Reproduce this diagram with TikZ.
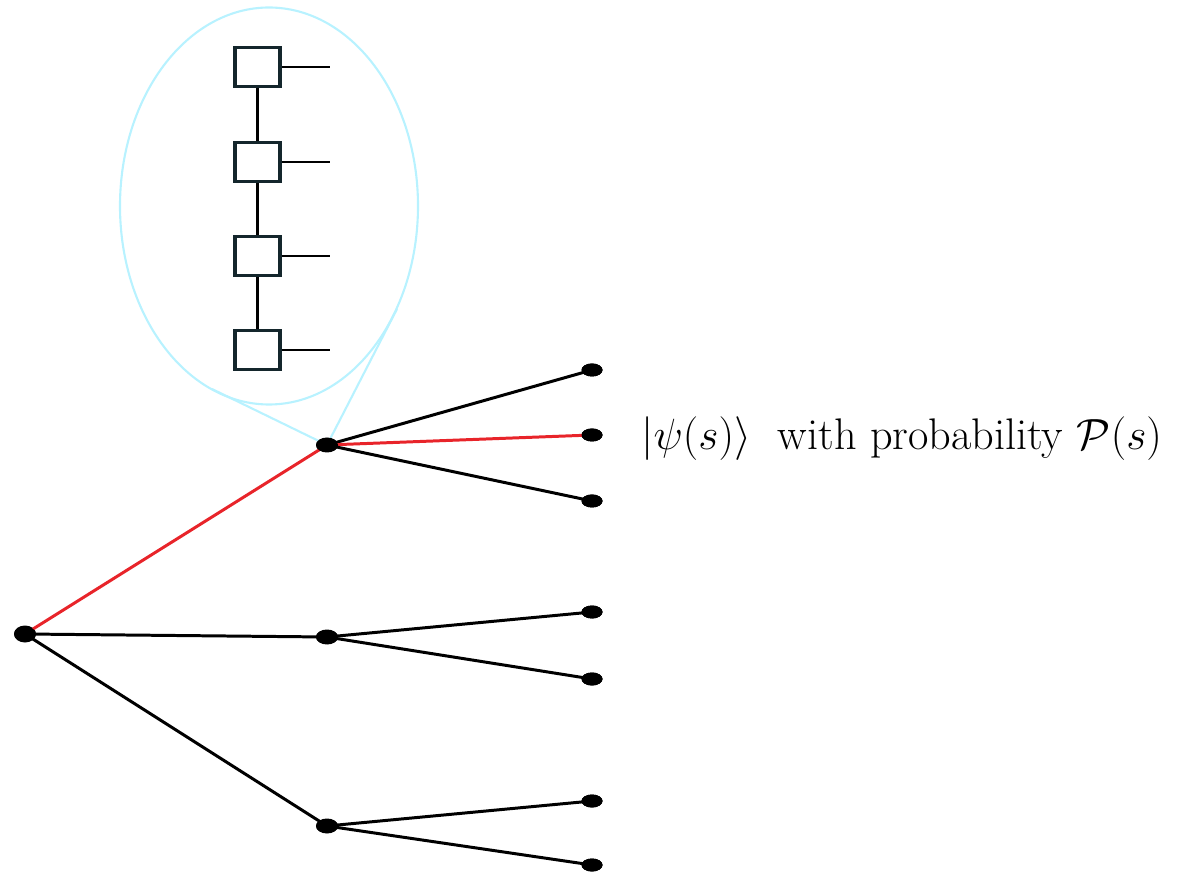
\documentclass[tikz,border=0pt]{standalone}
\usepackage{amsmath}
\usetikzlibrary{shapes.geometric}
\definecolor{treered}{HTML}{E8242A}
\definecolor{spot}{HTML}{B8F2FF}
\definecolor{boxline}{HTML}{14262C}
\newlength{\pxu}
\setlength{\pxu}{0.02cm}
\tikzset{
  dot/.style={ellipse, fill=black, inner sep=0pt, minimum width=22\pxu, minimum height=14\pxu},
  leaf/.style={ellipse, fill=black, inner sep=0pt, minimum width=21\pxu, minimum height=13\pxu},
  edge/.style={line width=1.7pt, black},
  rededge/.style={line width=1.7pt, treered},
  tbox/.style={draw=boxline, line width=1.9pt, fill=white, minimum width=45\pxu, minimum height=39\pxu, inner sep=0pt},
  tline/.style={line width=1.7pt, black},
  spotline/.style={line width=1.2pt, spot}
}
\begin{document}
\begin{tikzpicture}[x=0.02cm,y=-0.02cm]
\useasboundingbox (0,0) rectangle (1180,874);
% spotlight ellipse
\node[draw=spot, line width=1.2pt, ellipse, minimum width=298\pxu, minimum height=397\pxu, inner sep=0pt] (lens) at (269,206) {};
\coordinate (t1) at (212,389);
\coordinate (t2) at (397,309);
% tree nodes
\node[dot, minimum height=17\pxu] (root) at (25,634) {};
\node[dot] (a) at (327,445) {};
\node[dot] (b) at (327,637) {};
\node[dot] (c) at (327,826) {};
\node[leaf] (a1) at (592,370) {};
\node[leaf] (a2) at (592,435) {};
\node[leaf] (a3) at (592,501) {};
\node[leaf] (b1) at (592,612) {};
\node[leaf] (b2) at (592,679) {};
\node[leaf] (c1) at (592,801) {};
\node[leaf] (c2) at (592,865) {};
\draw[spotline] (a.center) -- (t1);
\draw[spotline] (a.center) -- (t2);
% edges
\draw[rededge] (root.center) -- (a.center);
\draw[edge] (root.center) -- (b.center);
\draw[edge] (root.center) -- (c.center);
\draw[edge] (a.center) -- (a1.center);
\draw[rededge] (a.center) -- (a2.center);
\draw[edge] (a.center) -- (a3.center);
\draw[edge] (b.center) -- (b1.center);
\draw[edge] (b.center) -- (b2.center);
\draw[edge] (c.center) -- (c1.center);
\draw[edge] (c.center) -- (c2.center);
% redraw dots on top
\foreach \n in {root,a,b,c} \fill (\n.center) ellipse [x radius=11, y radius=7.5];
\foreach \n in {a1,a2,a3,b1,b2,c1,c2} \fill (\n.center) ellipse [x radius=10.5, y radius=6.5];
% MPS tensors
\node[tbox] (s1) at (257.5,67) {};
\node[tbox] (s2) at (257.5,162) {};
\node[tbox] (s3) at (257.5,256) {};
\node[tbox] (s4) at (257.5,350) {};
\coordinate (p1) at (330,67);
\coordinate (p2) at (330,162);
\coordinate (p3) at (330,256);
\coordinate (p4) at (330,350);
\draw[tline] (s1) -- (s2);
\draw[tline] (s2) -- (s3);
\draw[tline] (s3) -- (s4);
\draw[tline] (s1.east) -- (p1);
\draw[tline] (s2.east) -- (p2);
\draw[tline] (s3.east) -- (p3);
\draw[tline] (s4.east) -- (p4);
% label
\node[anchor=west, inner sep=0pt, font=\fontsize{25.2}{30}\selectfont] (lab) at (641,439) {$\lvert\psi(s)\rangle$\ \ with probability $\mathcal{P}(s)$};
\end{tikzpicture}
\end{document}
